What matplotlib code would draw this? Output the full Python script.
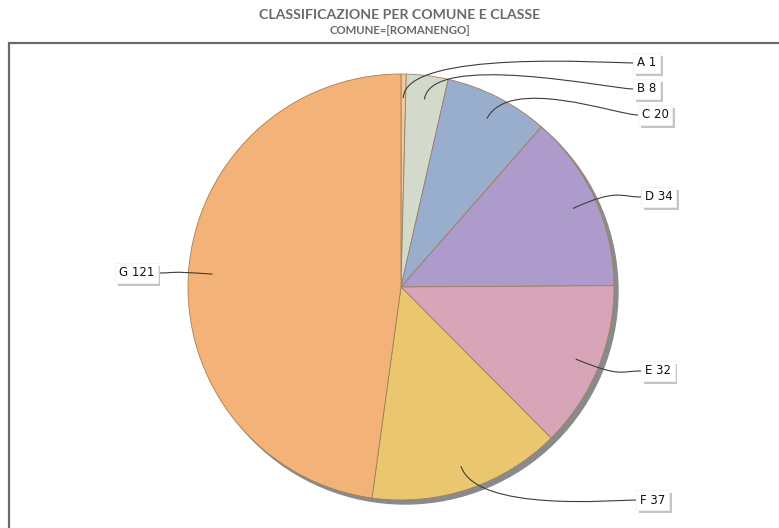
import matplotlib.pyplot as plt
from matplotlib.path import Path
from matplotlib.patches import PathPatch, Circle
import matplotlib.patheffects as pe
import numpy as np

categories = ["A", "B", "C", "D", "E", "F", "G"]
values = [1, 8, 20, 34, 32, 37, 121]
colors = ["#f6c796", "#d3d9cb", "#99adcd", "#ad9ccb", "#d7a5b7", "#eac76f", "#f2b278"]

# label anchor positions in pixels (x of box edge, y center), from the picture
label_pos = [(637, 63), (637, 89), (642, 115), (645, 197), (645, 371), (640, 500), (154, 273)]

W, H = 779, 528
fig = plt.figure(figsize=(W / 100, H / 100), dpi=100)
ax = fig.add_axes([0, 0, 1, 1])

cx, cy, R = 401, H - 287, 213

# frame of the plot area
ax.plot([9.5, 9.5, W], [0, H - 42.5, H - 42.5], color="#6a6a6a", lw=1.6, solid_joinstyle="miter")

# shadow
ax.add_patch(Circle((cx + 4, cy - 4), R, color="#8a8a8a", zorder=1))

wedges, _ = ax.pie(values, colors=colors, startangle=90, counterclock=False,
                   center=(cx, cy), radius=R, frame=True,
                   wedgeprops=dict(edgecolor="#a08060", linewidth=0.6, zorder=2))
ax.set_xlim(0, W)
ax.set_ylim(0, H)
ax.set_aspect("equal")
ax.axis("off")

total = sum(values)
start = 90.0
for cat, v, (lx, ly) in zip(categories, values, label_pos):
    span = v / total * 360
    mid = np.deg2rad(start - span / 2)
    start -= span
    dx, dy = np.cos(mid), np.sin(mid)
    p0 = (cx + 189 * dx, cy + 189 * dy)
    p1 = (cx + 238 * dx, cy + 238 * dy)
    ly2 = H - ly
    right = dx >= 0
    if right:
        p3 = (lx - 4, ly2)
        p2 = (lx - 25, ly2)
    else:
        p3 = (lx + 4, ly2)
        p2 = (lx + 25, ly2)
    path = Path([p0, p1, p2, p3], [Path.MOVETO, Path.CURVE4, Path.CURVE4, Path.CURVE4])
    ax.add_patch(PathPatch(path, fill=False, edgecolor="#3c3c3c", lw=0.8, zorder=4))
    t = ax.text(lx, ly2, f"{cat} {v}", ha="left" if right else "right", va="center",
                fontsize=8.5, color="#111111", family="DejaVu Sans", zorder=5,
                bbox=dict(boxstyle="square,pad=0.3", fc="white", ec="#f2f2f2", lw=0.6))
    t.get_bbox_patch().set_path_effects([
        pe.withSimplePatchShadow(offset=(2, -2), shadow_rgbFace="#c4c4c4", alpha=1.0)])

fig.text(400 / W, 1 - 15 / H, "CLASSIFICAZIONE PER COMUNE E CLASSE", ha="center", va="center",
         fontsize=10.2, fontweight="bold", color="#6a6a6a", family="Lato")
fig.text(400 / W, 1 - 30 / H, "COMUNE=[ROMANENGO]", ha="center", va="center",
         fontsize=8.2, fontweight="bold", color="#6a6a6a", family="Lato")

fig.savefig("out.png", dpi=100, facecolor="white")
